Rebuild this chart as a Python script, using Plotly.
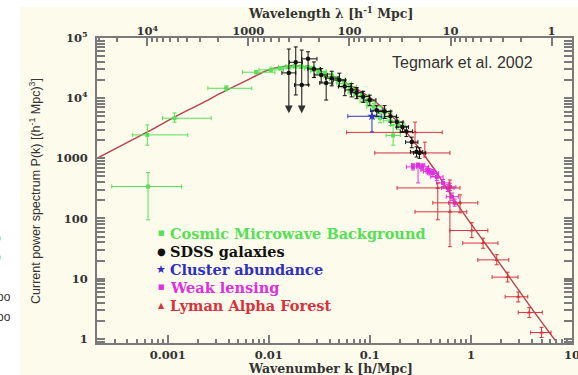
import numpy as np
import plotly.graph_objects as go

# ---- model power spectrum ----
model_k = [0.0002, 0.00063, 0.00117, 0.00207, 0.00375, 0.0065, 0.0102, 0.0161, 0.0227,
           0.040, 0.063, 0.105, 0.177, 0.279, 0.44, 0.69, 1.02, 1.94, 3.84, 7.1]
model_P = [1000, 2750, 4850, 7900, 13300, 21000, 30000, 34500, 33500,
           24800, 16600, 9700, 4500, 1800, 640, 200, 78, 17.6, 3.5, 0.86]

# ---- Cosmic Microwave Background ----
cmb_k = [0.00064, 0.00063, 0.00117, 0.0038, 0.0075, 0.0105, 0.013, 0.0155, 0.018, 0.021,
         0.024, 0.027, 0.031, 0.036, 0.042, 0.048, 0.056, 0.063, 0.072, 0.083, 0.095,
         0.11, 0.126, 0.14, 0.16, 0.17, 0.19]
cmb_P = [340, 2450, 4640, 14600, 27000, 29500, 31500, 33000, 34000, 33500,
         33000, 31000, 28000, 25500, 23000, 20500, 17500, 15500, 12500, 11000, 8800,
         7200, 4700, 5800, 4200, 2400, 3600]
cmb_klo = [0.00028, 0.00045, 0.00089, 0.0025, 0.0055, 0.0080, 0.0105, 0.0125, 0.0148, 0.0175,
           0.020, 0.0225, 0.026, 0.030, 0.035, 0.040, 0.047, 0.053, 0.061, 0.070, 0.080,
           0.093, 0.107, 0.119, 0.136, 0.145, 0.161]
cmb_khi = [0.00137, 0.00158, 0.0027, 0.0068, 0.0115, 0.0140, 0.0165, 0.0190, 0.0215, 0.0250,
           0.0285, 0.032, 0.037, 0.043, 0.050, 0.057, 0.066, 0.074, 0.085, 0.098, 0.112,
           0.13, 0.148, 0.165, 0.188, 0.20, 0.223]
cmb_Plo = [95, 1650, 3980, 13200, 25500, 27800, 29700, 31000, 32000, 31500,
           31000, 29000, 26000, 23500, 21000, 18500, 15800, 13800, 11000, 9700, 7600,
           6200, 3900, 4900, 3500, 1650, 3000]
cmb_Phi = [580, 3590, 5680, 16000, 28500, 31200, 33300, 35000, 36000, 35500,
           35000, 33000, 30000, 27500, 25000, 22500, 19200, 17200, 14000, 12300, 10000,
           8200, 5600, 6700, 4900, 3600, 4300]

# ---- SDSS galaxies (limit=1: lower error is an upper-limit arrow) ----
sdss_k = [0.0158, 0.0185, 0.0212, 0.0245, 0.028, 0.033, 0.037, 0.042, 0.050, 0.0565, 0.066,
          0.074, 0.086, 0.100, 0.117, 0.140, 0.160, 0.185, 0.210, 0.230, 0.260, 0.290, 0.310]
sdss_P = [26300, 39500, 16600, 45000, 30500, 24300, 17800, 21500, 20000, 15600, 13700,
          12300, 10600, 9300, 6300, 6000, 5000, 4000, 3300, 2800, 1860, 1280, 1230]
sdss_Plo = [5600, 11300, 5600, 16600, 22000, 18500, 9300, 16000, 15500, 11000, 10500,
            9800, 8500, 7600, 5000, 4600, 4000, 3300, 2700, 2300, 1500, 1050, 1000]
sdss_Phi = [65600, 71000, 63000, 59000, 40000, 31000, 22500, 28000, 26000, 20000, 17500,
            15000, 13000, 11200, 7600, 7500, 6100, 4800, 4000, 3400, 2250, 1550, 1500]
sdss_klo = [0.0135, 0.0160, 0.0180, 0.0212, 0.0243, 0.0285, 0.0320, 0.0365, 0.0435, 0.049, 0.057,
            0.064, 0.075, 0.087, 0.102, 0.122, 0.139, 0.161, 0.183, 0.200, 0.226, 0.252, 0.270]
sdss_khi = [0.0185, 0.0215, 0.0248, 0.0300, 0.0325, 0.0380, 0.0430, 0.0485, 0.0575, 0.065, 0.076,
            0.085, 0.099, 0.115, 0.135, 0.161, 0.184, 0.213, 0.242, 0.265, 0.299, 0.334, 0.357]
sdss_limit = [1, 0, 1, 0, 0, 0, 0, 0, 0, 0, 0, 0, 0, 0, 0, 0, 0, 0, 0, 0, 0, 0, 0]

# ---- Cluster abundance ----
clu_k, clu_P = [0.105], [5000]
clu_klo, clu_khi = [0.0606], [0.131]
clu_Plo, clu_Phi = [2750], [6000]

# ---- Weak lensing ----
lens_k = [0.267, 0.30, 0.33, 0.37, 0.39, 0.42, 0.46, 0.53, 0.59, 0.62, 0.65, 0.69]
lens_P = [720, 780, 720, 640, 600, 570, 490, 390, 320, 335, 230, 182]
lens_klo = [0.23, 0.26, 0.29, 0.32, 0.34, 0.37, 0.40, 0.46, 0.51, 0.54, 0.57, 0.60]
lens_khi = [0.31, 0.35, 0.38, 0.43, 0.45, 0.48, 0.53, 0.61, 0.68, 0.71, 0.75, 0.79]
lens_Plo = [640, 390, 640, 570, 530, 500, 430, 340, 280, 290, 200, 160]
lens_Phi = [810, 830, 810, 720, 680, 650, 560, 445, 365, 385, 265, 210]

# ---- Lyman Alpha Forest ----
lya_k = [0.28, 0.35, 0.47, 0.62, 0.78, 1.02, 1.32, 1.80, 2.31, 2.94, 3.78, 5.0]
lya_P = [2700, 1230, 322, 129, 182, 63, 39, 20.5, 10.6, 5.0, 2.74, 1.27]
lya_klo = [0.059, 0.112, 0.186, 0.28, 0.42, 0.62, 0.83, 1.17, 1.62, 2.18, 2.94, 3.9]
lya_khi = [0.52, 0.62, 0.78, 0.91, 1.17, 1.47, 1.85, 2.37, 2.92, 3.65, 5.08, 6.2]
lya_Plo = [1800, 1050, 95, 34, 124, 48, 32, 17, 8.8, 4.1, 2.25, 1.05]
lya_Phi = [4000, 1860, 390, 437, 247, 85, 47, 25, 12.8, 6.0, 3.3, 1.55]

# ---- axis ticks ----
k_ticks = [0.001, 0.01, 0.1, 1, 10]
k_labels = ["0.001", "0.01", "0.1", "1", "10"]
lam_ticks = [1e4, 1000, 100, 10, 1]
lam_labels = ["10<sup>4</sup>", "1000", "100", "10", "1"]
P_ticks = [1, 10, 100, 1000, 1e4, 1e5]
P_labels = ["1", "10", "100", "1000", "10<sup>4</sup>", "10<sup>5</sup>"]

series_names = ["Cosmic Microwave Background", "SDSS galaxies", "Cluster abundance",
                "Weak lensing", "Lyman Alpha Forest"]
series_colors = ["#55e055", "#111111", "#2f2fc8", "#e02ee0", "#d9323f"]
series_glyphs = ["■", "●", "★", "■", "▲"]

SERIF = "DejaVu Serif"
SANS = "Liberation Sans, Arial"
CREAM = "#fdfcec"
AXIS = "#7a7a7a"
K_RANGE = [np.log10(0.0002), 1.0]


def errbars(v, lo, hi, color):
    v, lo, hi = map(np.asarray, (v, lo, hi))
    return dict(type="data", symmetric=False, array=hi - v, arrayminus=v - lo,
                color=color, thickness=1, width=2)


fig = go.Figure()

fig.add_trace(go.Scatter(x=model_k, y=model_P, mode="lines",
                         line=dict(color="#b8404c", width=1.4, shape="spline", smoothing=1.0),
                         hoverinfo="skip"))


def add_points(k, P, klo, khi, Plo, Phi, idx, symbol, size):
    c = series_colors[idx]
    fig.add_trace(go.Scatter(
        x=k, y=P, mode="markers", name=series_names[idx],
        marker=dict(symbol=symbol, size=size, color=c),
        error_x=errbars(k, klo, khi, c),
        error_y=errbars(P, Plo, Phi, c)))


add_points(cmb_k, cmb_P, cmb_klo, cmb_khi, cmb_Plo, cmb_Phi, 0, "square", 4)
add_points(lens_k, lens_P, lens_klo, lens_khi, lens_Plo, lens_Phi, 3, "square", 4)
add_points(lya_k, lya_P, lya_klo, lya_khi, lya_Plo, lya_Phi, 4, "triangle-up", 4)
add_points(clu_k, clu_P, clu_klo, clu_khi, clu_Plo, clu_Phi, 2, "star", 7)

# SDSS: upper-limit points get no lower bar, an arrow is drawn instead
sdss_lo_bar = [p if lim else lo for p, lo, lim in zip(sdss_P, sdss_Plo, sdss_limit)]
add_points(sdss_k, sdss_P, sdss_klo, sdss_khi, sdss_lo_bar, sdss_Phi, 1, "circle", 4.5)

annotations = []
for k, p, tip, lim in zip(sdss_k, sdss_P, sdss_Plo, sdss_limit):
    if lim:
        annotations.append(dict(
            x=np.log10(k), y=np.log10(tip), ax=np.log10(k), ay=np.log10(p),
            xref="x", yref="y", axref="x", ayref="y", text="",
            showarrow=True, arrowhead=2, arrowsize=1.3, arrowwidth=1.2,
            arrowcolor="#333333", standoff=0, startstandoff=0))

# plot window in pixels
W, H = 578, 375
L, R, T, B = 97, 6, 38, 32
pw, ph = W - L - R, H - T - B


def px(x):
    return (x - L) / pw


def py(y):
    return (H - B - y) / ph


def label(text, x, y, font, xanchor="center", **kw):
    return dict(text=text, x=px(x), y=py(y), xref="paper", yref="paper",
                xanchor=xanchor, yanchor="middle", showarrow=False, font=font, **kw)


tickfont = dict(family=SERIF, size=11.5, color="#333", weight="bold")

# axis titles, credit, legend block
title_font = dict(family=SERIF, size=12.5, color="#333", weight="bold")
annotations += [
    label("Wavelength λ [h<sup>-1</sup> Mpc]", 330, 13, title_font),
    label("Wavenumber k [h/Mpc]", 330, 368.5, title_font),
    label("Current power spectrum P(k) [(h<sup>-1</sup> Mpc)<sup>3</sup>]", 35, 191,
          dict(family=SANS, size=12.5, color="#333"), textangle=-90),
    label("Tegmark et al. 2002", 462, 62, dict(family=SANS, size=16, color="#333")),
    # last k tick label sits on the page edge, so it is placed by hand
    label(k_labels[-1], 572, 354.5, tickfont),
]
glyph_sizes = [7, 10, 11, 7, 8]
for i, (name, col, g) in enumerate(zip(series_names, series_colors, series_glyphs)):
    yrow = 233 + 18 * i
    annotations.append(label(g, 161, yrow, dict(family="DejaVu Sans", size=glyph_sizes[i], color=col)))
    annotations.append(label(name, 168, yrow,
                             dict(family=SERIF, size=14.5, color=col, weight="bold"),
                             xanchor="left"))

# text fragments at the left page edge
for txt, xr, yc in [("o", 3, 238), ("o", 3, 257), ("oo", 13, 297), ("oo", 13, 317)]:
    annotations.append(label(txt, xr, yc, dict(family=SANS, size=12, color="#333"),
                             xanchor="right"))

# top wavelength axis: lambda = 2*pi/k
lam_tick_k = [2 * np.pi / lam for lam in lam_ticks]
lam_minor_k = [2 * np.pi / (m * 10.0 ** n) for n in range(0, 5) for m in range(2, 10)]

common = dict(showgrid=False, zeroline=False, showline=True, linecolor=AXIS, linewidth=2,
              ticks="inside", ticklen=8, tickwidth=1.5, tickcolor=AXIS, tickfont=tickfont,
              automargin=False)

fig.update_layout(
    width=W, height=H, autosize=False,
    margin=dict(l=L, r=R, t=T, b=B, pad=0, autoexpand=False),
    paper_bgcolor="white", plot_bgcolor=CREAM,
    showlegend=False,
    xaxis=dict(type="log", range=K_RANGE,
               tickmode="array", tickvals=k_ticks[:-1], ticktext=k_labels[:-1], mirror=True,
               ticklabelstandoff=0,
               minor=dict(ticks="inside", ticklen=4, tickcolor=AXIS, dtick="D1", showgrid=False),
               **common),
    xaxis2=dict(type="log", range=K_RANGE, overlaying="x", side="top",
                tickmode="array", tickvals=lam_tick_k, ticktext=lam_labels,
                ticklabelstandoff=-4,
                minor=dict(ticks="inside", ticklen=4, tickcolor=AXIS,
                           tickmode="array", tickvals=lam_minor_k, showgrid=False),
                **common),
    yaxis=dict(type="log", range=[-0.07, 5.0],
               tickmode="array", tickvals=P_ticks, ticktext=P_labels, mirror="allticks",
               ticklabelstandoff=5,
               minor=dict(ticks="inside", ticklen=4, tickcolor=AXIS, dtick="D1", showgrid=False),
               **common),
    annotations=annotations,
    shapes=[dict(type="rect", xref="paper", yref="paper", layer="below",
                 x0=px(20), x1=px(W + 5), y0=py(H + 5), y1=py(7),
                 fillcolor=CREAM, line=dict(width=0))],
)

# invisible trace so the wavelength axis is laid out
fig.add_trace(go.Scatter(x=[model_k[0], model_k[-1]], y=[model_P[0], model_P[-1]],
                         xaxis="x2", mode="markers", marker=dict(opacity=0),
                         hoverinfo="skip", showlegend=False))

fig.write_html("out.html")
